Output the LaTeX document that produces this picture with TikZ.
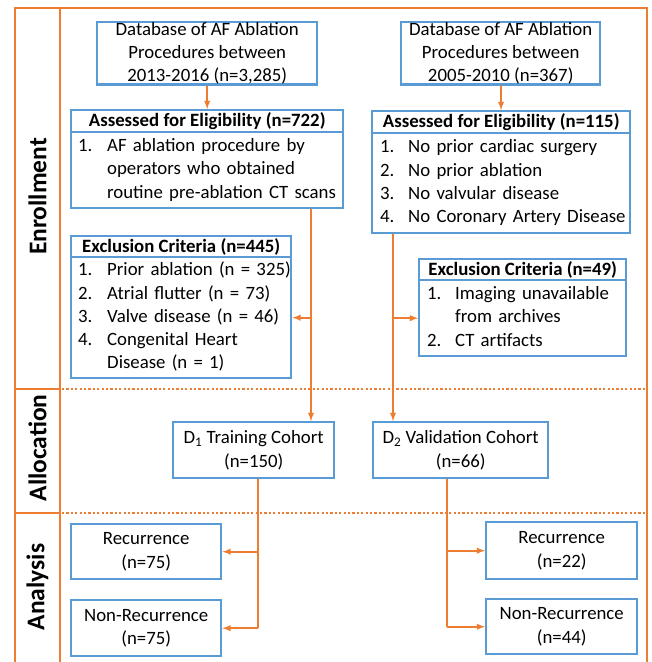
\documentclass[tikz,border=0pt]{standalone}
\usepackage{fontspec}
\setmainfont{Carlito}
\usepackage{xcolor}
\usepackage{tikz}
\usetikzlibrary{calc, positioning}
\definecolor{BoxBlue}{HTML}{5B9BD5}
\definecolor{FlowOrange}{HTML}{ED7D31}
\newcommand{\bodyfont}{\fontsize{18.8}{23.3}\selectfont}

\begin{document}
\begin{tikzpicture}[x=1pt, y=-1pt,
      box/.style={draw=BoxBlue, line width=2.4pt, fill=white, anchor=north west,
                  inner sep=0pt, align=center, font=\bodyfont},
      hdr/.style={box, font=\bodyfont\bfseries},
      lst/.style={box, align=left, inner xsep=7pt},
      lane/.style={rotate=90, font=\fontsize{25.5}{30}\selectfont\bfseries},
      frame/.style={FlowOrange, line width=2.2pt},
      sep/.style={FlowOrange, line width=2.2pt, dash pattern=on 2.2pt off 2.2pt},
      flow/.style={draw=FlowOrange, line width=1.8pt, -latex}]
      \useasboundingbox (0,0) rectangle (652,662);
      % Frame and lanes
      \draw[frame] (15,662) -- (15,8) -- (647,8) -- (647,662);
      \draw[frame] (60,8) -- (60,662);
      \draw[frame] (15,389) -- (60,389);
      \draw[frame] (15,513) -- (60,513);
      \draw[sep] (62,389) -- (647,389);
      \draw[sep] (62,513) -- (647,513);
      \node[lane] (enroll) at (37.5,196.5) {Enrollment};
      \node[lane] (alloc)  at (37.5,448)   {Allocation};
      \node[lane] (anal)   at (37.5,587)   {Analysis};
      % Training side
      \node[box, minimum width=220pt, minimum height=62pt] (db1) at (96,21)
           {Database of AF Ablation\\Procedures between\\2013-2016 (n=3,285)};
      \node[hdr, minimum width=272pt, minimum height=22pt] (elig1h) at (70,109)
           {Assessed for Eligibility (n=722)};
      \node[lst, text width=258pt, minimum height=76pt] (elig1) at (70,131)
           {\begin{tabular}{@{}p{29pt}@{}l@{}}
              1. & AF ablation procedure by\\
                 & operators who obtained\\
                 & routine pre-ablation CT scans
            \end{tabular}};
      \node[hdr, minimum width=220pt, minimum height=21pt] (excl1h) at (70,235)
           {Exclusion Criteria (n=445)};
      \node[lst, text width=206pt, minimum height=121pt] (excl1) at (70,256)
           {\begin{tabular}{@{}p{29pt}@{}l@{}}
              1. & Prior ablation (n = 325)\\
              2. & Atrial flutter (n = 73)\\
              3. & Valve disease (n = 46)\\
              4. & Congenital Heart\\
                 & Disease (n = 1)
            \end{tabular}};
      % Validation side
      \node[box, minimum width=199pt, minimum height=62pt] (db2) at (400,21)
           {Database of AF Ablation\\Procedures between\\2005-2010 (n=367)};
      \node[hdr, minimum width=258pt, minimum height=22pt] (elig2h) at (371,110)
           {Assessed for Eligibility (n=115)};
      \node[lst, inner xsep=8pt, text width=242pt, minimum height=100pt] (elig2) at (371,132)
           {\begin{tabular}{@{}p{28pt}@{}l@{}}
              1. & No prior cardiac surgery\\
              2. & No prior ablation\\
              3. & No valvular disease\\
              4. & No Coronary Artery Disease
            \end{tabular}};
      \node[hdr, minimum width=207pt, minimum height=21pt] (excl2h) at (418,258)
           {Exclusion Criteria (n=49)};
      \node[lst, inner xsep=8pt, text width=191pt, minimum height=76pt] (excl2) at (418,279)
           {\begin{tabular}{@{}p{28pt}@{}l@{}}
              1. & Imaging unavailable\\
                 & from archives\\
              2. & CT artifacts
            \end{tabular}};
      % Cohorts
      \node[box, minimum width=161pt, minimum height=56pt] (d1) at (172,421)
           {D\textsubscript{1} Training Cohort\\(n=150)};
      \node[box, minimum width=175pt, minimum height=56pt] (d2) at (372,421)
           {D\textsubscript{2} Validation Cohort\\(n=66)};
      % Outcomes
      \node[box, minimum width=150pt, minimum height=55pt] (rec1)    at (70,523)  {Recurrence\\(n=75)};
      \node[box, minimum width=150pt, minimum height=56pt] (nonrec1) at (70,599)  {Non-Recurrence\\(n=75)};
      \node[box, minimum width=151pt, minimum height=57pt] (rec2)    at (485,521) {Recurrence\\(n=22)};
      \node[box, minimum width=151pt, minimum height=55pt] (nonrec2) at (485,598) {Non-Recurrence\\(n=44)};
      % Spines
      \coordinate (sp1) at (311,0);
      \coordinate (sp2) at (393,0);
      \coordinate (sp3) at (258,0);
      \coordinate (sp4) at (447,0);
      % Arrows
      \draw[flow] (db1) -- (elig1h);
      \draw[flow] (db2) -- (elig2h);
      \draw[flow] (elig1.south -| sp1) -- (d1.north -| sp1);
      \draw[flow] (sp1 |- excl1.east) -- (excl1.east);
      \draw[flow] (elig2.south -| sp2) -- (d2.north -| sp2);
      \draw[flow] (sp2 |- excl2.west) -- (excl2.west);
      \draw[FlowOrange, line width=1.8pt] (d1.south -| sp3) -- (sp3 |- nonrec1.east);
      \draw[flow] (sp3 |- rec1.east) -- (rec1.east);
      \draw[flow] (sp3 |- nonrec1.east) -- (nonrec1.east);
      \draw[FlowOrange, line width=1.8pt] (d2.south -| sp4) -- (sp4 |- nonrec2.west);
      \draw[flow] (sp4 |- rec2.west) -- (rec2.west);
      \draw[flow] (sp4 |- nonrec2.west) -- (nonrec2.west);
    \end{tikzpicture}
\end{document}
